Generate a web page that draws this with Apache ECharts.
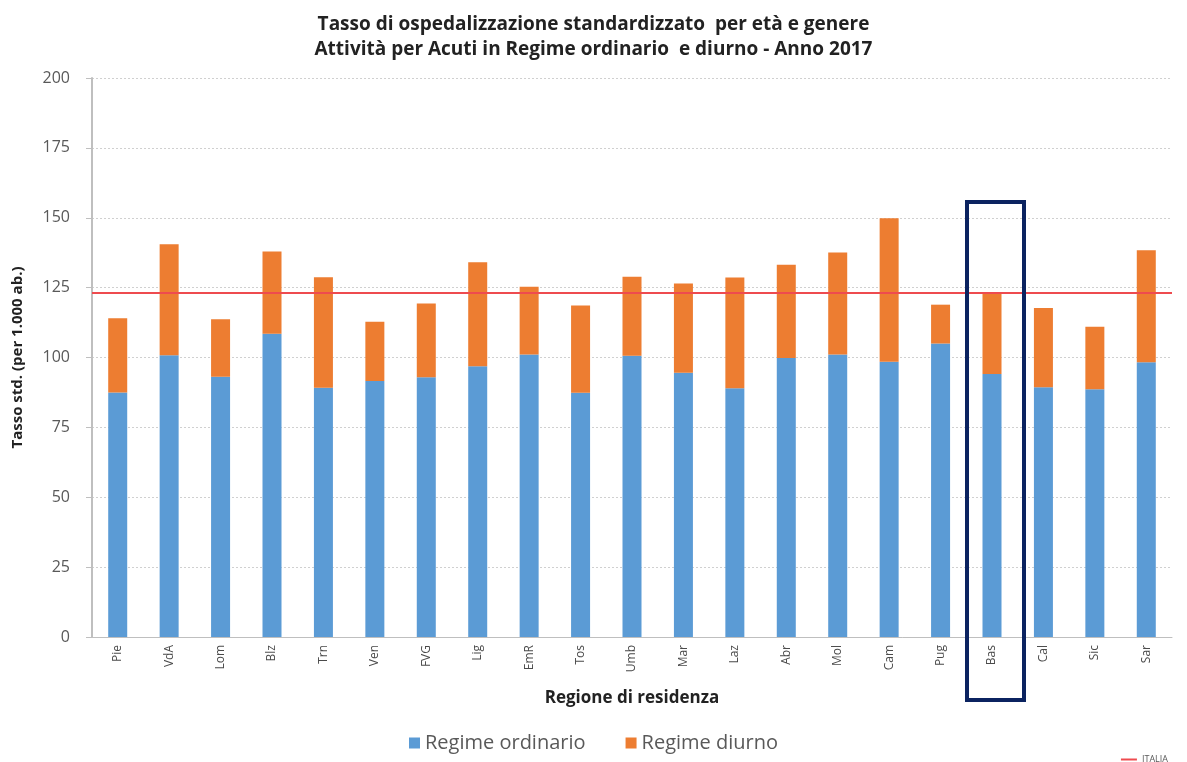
<!DOCTYPE html>
<html lang="it">
<head>
    <meta charset="UTF-8">
    <title>Tasso di ospedalizzazione</title>
    <style>
        * {
            margin: 0;
            padding: 0;
            box-sizing: border-box;
        }

        html, body {
            width: 1187px;
            height: 762px;
            background: #ffffff;
            overflow: hidden;
        }

        #chart {
            width: 1187px;
            height: 762px;
        }
    </style>
    <script type="text/javascript" src="https://cdn.jsdelivr.net/npm/echarts@6/dist/echarts.min.js"></script>
</head>
<body>
<div id="chart"></div>
<script type="text/javascript">
    var regioni = ['Pie', 'VdA', 'Lom', 'Blz', 'Trn', 'Ven', 'FVG', 'Lig', 'EmR', 'Tos', 'Umb',
        'Mar', 'Laz', 'Abr', 'Mol', 'Cam', 'Pug', 'Bas', 'Cal', 'Sic', 'Sar']
    var totale = [114.0, 140.5, 113.7, 137.9, 128.7, 112.8, 119.3, 134.1, 125.3, 118.6, 128.9,
        126.5, 128.6, 133.2, 137.6, 149.8, 118.9, 123.0, 117.7, 111.0, 138.4]
    var ordinario = [87.5, 100.8, 93.1, 108.5, 89.2, 91.6, 92.9, 96.9, 101.1, 87.4, 100.6,
        94.5, 89.0, 99.8, 101.1, 98.5, 105.0, 94.1, 89.4, 88.6, 98.3]
    var italia = 123.3
    var evidenziata = 'Bas'

    // diurno = totale - ordinario (quota arancione sopra la blu)
    var diurno = totale.map(function (v, i) {
        return Math.round((v - ordinario[i]) * 10) / 10
    })

    var labelColor = '#595959'
    var myChart = echarts.init(document.getElementById('chart'))

    var option = {
        animation: false,
        textStyle: {
            fontFamily: 'Open Sans'
        },
        title: {
            text: 'Tasso di ospedalizzazione standardizzato  per età e genere\nAttività per Acuti in Regime ordinario  e diurno - Anno 2017',
            left: 'center',
            top: 7,
            textStyle: {
                fontSize: 19,
                fontWeight: 'bold',
                color: '#222222',
                lineHeight: 25
            }
        },
        legend: [
            {
                data: ['Regime ordinario', 'Regime diurno'],
                left: 'center',
                top: 728,
                itemWidth: 11,
                itemHeight: 11,
                itemGap: 40,
                icon: 'rect',
                textStyle: {
                    fontSize: 20,
                    color: labelColor
                }
            },
            {
                data: ['ITALIA'],
                right: 14,
                top: 750,
                itemWidth: 16,
                itemHeight: 2,
                itemGap: 5,
                icon: 'rect',
                textStyle: {
                    fontSize: 9,
                    color: labelColor
                }
            }
        ],
        grid: {
            left: 92,
            right: 15,
            top: 78,
            bottom: 125
        },
        xAxis: {
            type: 'category',
            data: regioni,
            name: 'Regione di residenza',
            nameLocation: 'middle',
            nameGap: 53,
            nameTextStyle: {
                fontSize: 17,
                fontWeight: 'bold',
                color: '#222222'
            },
            axisLine: {
                lineStyle: {color: '#BFBFBF', width: 1}
            },
            axisTick: {
                length: 5,
                lineStyle: {color: '#BFBFBF'}
            },
            axisLabel: {
                rotate: 90,
                fontSize: 12,
                color: '#4a4a4a',
                margin: 8
            }
        },
        yAxis: {
            type: 'value',
            min: 0,
            max: 200,
            interval: 25,
            name: 'Tasso std. (per 1.000 ab.)',
            nameLocation: 'middle',
            nameGap: 67,
            nameTextStyle: {
                fontSize: 15,
                fontWeight: 'bold',
                color: '#222222'
            },
            axisLine: {
                show: true,
                lineStyle: {color: '#BFBFBF', width: 2}
            },
            axisTick: {
                show: true,
                length: 6,
                lineStyle: {color: '#BFBFBF'}
            },
            axisLabel: {
                fontSize: 16,
                color: labelColor,
                margin: 22
            },
            splitLine: {
                lineStyle: {color: '#D0D0D0', type: [2, 2]}
            }
        },
        series: [
            {
                name: 'Regime ordinario',
                type: 'bar',
                stack: 'tot',
                barWidth: 19,
                itemStyle: {color: '#5B9BD5'},
                data: ordinario
            },
            {
                name: 'Regime diurno',
                type: 'bar',
                stack: 'tot',
                barWidth: 19,
                itemStyle: {color: '#ED7D31'},
                data: diurno
            },
            {
                name: 'ITALIA',
                type: 'line',
                data: [],
                itemStyle: {color: '#EE4B4F'},
                lineStyle: {color: '#EE4B4F', width: 2},
                markLine: {
                    silent: true,
                    symbol: 'none',
                    label: {show: false},
                    lineStyle: {color: '#EE4B4F', width: 2, type: 'solid'},
                    data: [{yAxis: italia}]
                }
            }
        ]
    }
    myChart.setOption(option)

    // riquadro attorno alla regione evidenziata
    var centro = myChart.convertToPixel({xAxisIndex: 0, yAxisIndex: 0}, [evidenziata, 155.6])
    var base = myChart.convertToPixel({xAxisIndex: 0, yAxisIndex: 0}, [evidenziata, 0])
    myChart.setOption({
        graphic: [{
            type: 'rect',
            shape: {
                x: centro[0] - 25,
                y: centro[1],
                width: 57,
                height: base[1] - centro[1] + 63
            },
            style: {
                fill: 'none',
                stroke: '#0B2360',
                lineWidth: 4
            },
            z: 100
        }]
    })
</script>
</body>
</html>
